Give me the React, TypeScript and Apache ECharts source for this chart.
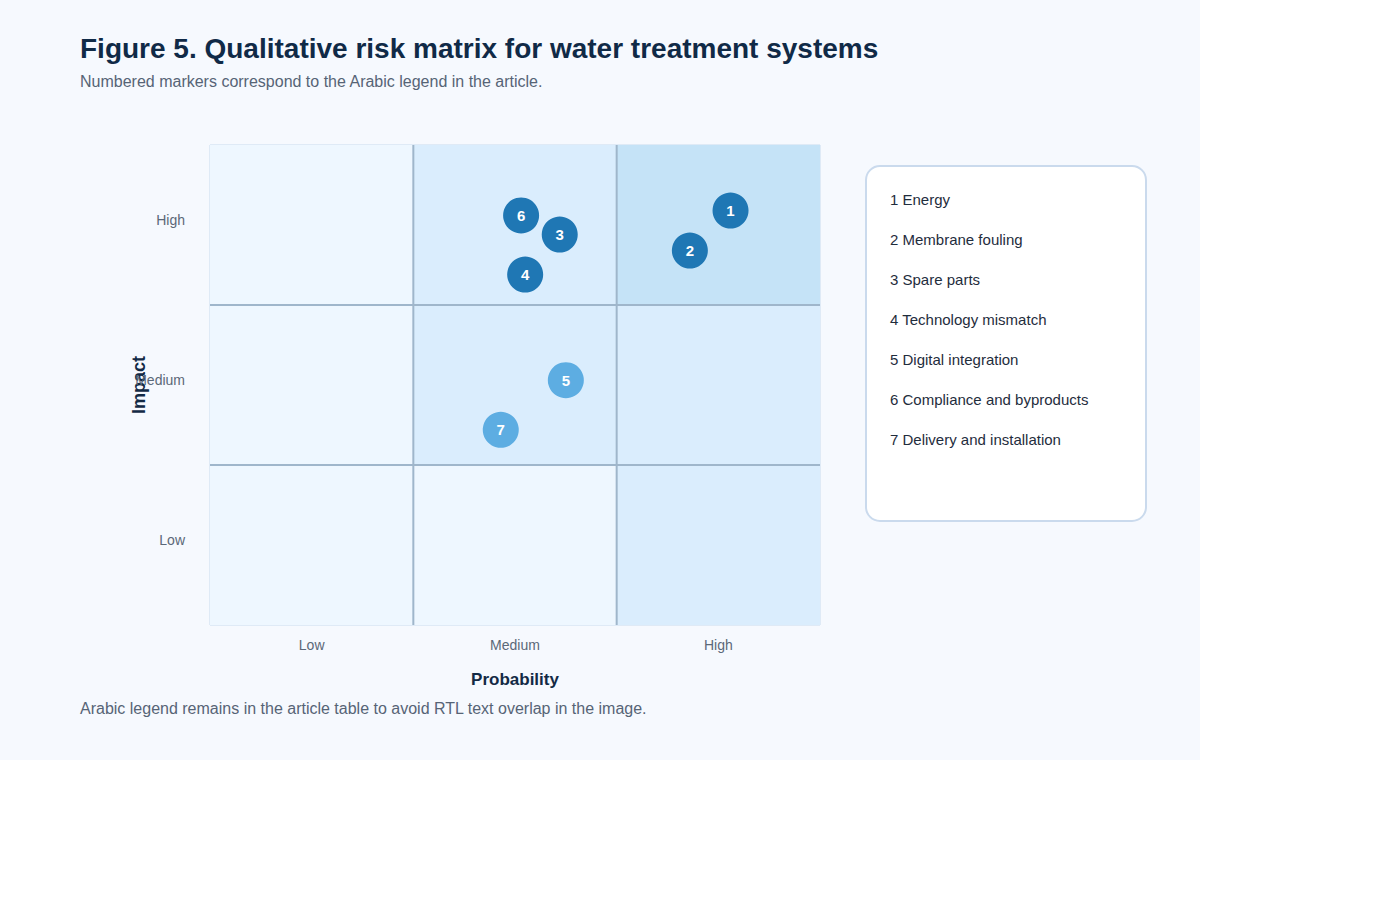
import React, { useEffect, useRef } from "react";
import * as echarts from "echarts";

// Risk levels along each axis
const levels = ["Low", "Medium", "High"];

// Matrix cell shading tiers: [probabilityIndex, impactIndex, tier]
const cells: [number, number, number][] = [
  [0, 0, 0], [1, 0, 0], [2, 0, 1],
  [0, 1, 0], [1, 1, 1], [2, 1, 1],
  [0, 2, 0], [1, 2, 1], [2, 2, 2],
];
const tierColors = ["#eef7ff", "#daedfd", "#c5e3f7"];

// Numbered risks: probability and impact positions (1 = Low, 2 = Medium, 3 = High)
const riskIds = [1, 2, 3, 4, 5, 6, 7];
const riskProbability = [3.06, 2.86, 2.22, 2.05, 2.25, 2.03, 1.93];
const riskImpact = [3.09, 2.84, 2.94, 2.69, 2.03, 3.06, 1.72];
const riskPriority = ["high", "high", "high", "high", "moderate", "high", "moderate"];

const riskNames = [
  "Energy",
  "Membrane fouling",
  "Spare parts",
  "Technology mismatch",
  "Digital integration",
  "Compliance and byproducts",
  "Delivery and installation",
];

const FONT = "'Liberation Sans', Arial, sans-serif";

export default function App() {
  const ref = useRef<HTMLDivElement>(null);

  useEffect(() => {
    if (!ref.current) return;
    const chart = echarts.init(ref.current, undefined, { renderer: "svg" });

    const legendTexts = riskIds.map((id, i) => ({
      type: "text",
      left: 890,
      top: 192 + i * 40,
      style: {
        text: `${id} ${riskNames[i]}`,
        fill: "#1f2d3d",
        font: `15px ${FONT}`,
      },
    }));

    chart.setOption({
      animation: false,
      backgroundColor: "#f6f9fe",
      textStyle: { fontFamily: FONT },
      grid: {
        left: 210,
        top: 145,
        width: 610,
        height: 480,
        show: true,
        borderColor: "#c8dbee",
        borderWidth: 1,
        backgroundColor: "transparent",
      },
      xAxis: [
        {
          type: "category",
          data: levels,
          boundaryGap: true,
          axisLine: { show: false },
          axisTick: { show: false },
          splitLine: { show: false },
          axisLabel: { color: "#5b6878", fontSize: 14, margin: 13 },
          name: "Probability",
          nameLocation: "middle",
          nameGap: 46,
          nameMoveOverlap: false,
          nameTextStyle: { color: "#132a45", fontSize: 17, fontWeight: "bold" },
        },
        { type: "value", min: 0.5, max: 3.5, show: false },
      ],
      yAxis: [
        {
          type: "category",
          data: levels,
          boundaryGap: true,
          axisLine: { show: false },
          axisTick: { show: false },
          splitLine: { show: false },
          axisLabel: {
            color: "#5b6878",
            fontSize: 14,
            margin: 25,
            verticalAlign: "bottom",
            lineHeight: 10,
          },
          name: "Impact",
          nameLocation: "middle",
          nameRotate: 90,
          nameGap: 62,
          nameMoveOverlap: false,
          nameTextStyle: { color: "#132a45", fontSize: 18, fontWeight: "bold" },
        },
        { type: "value", min: 0.5, max: 3.5, show: false },
      ],
      series: [
        {
          type: "custom",
          xAxisIndex: 0,
          yAxisIndex: 0,
          silent: true,
          data: cells,
          renderItem: (params: any, api: any) => {
            const c = api.value(0);
            const r = api.value(1);
            const tier = api.value(2);
            const center = api.coord([c, r]);
            const size = api.size([1, 1]);
            const x0 = center[0] - size[0] / 2;
            const y0 = center[1] - size[1] / 2;
            const children: any[] = [
              {
                type: "rect",
                shape: { x: x0, y: y0, width: size[0], height: size[1] },
                style: { fill: tierColors[tier] },
              },
            ];
            const lineStyle = { stroke: "#9fb6cb", lineWidth: 2 };
            if (c > 0) {
              children.push({
                type: "line",
                z2: 5,
                shape: { x1: x0, y1: y0, x2: x0, y2: y0 + size[1] },
                style: lineStyle,
              });
            }
            if (r > 0) {
              children.push({
                type: "line",
                z2: 5,
                shape: { x1: x0, y1: y0 + size[1], x2: x0 + size[0], y2: y0 + size[1] },
                style: lineStyle,
              });
            }
            return { type: "group", children };
          },
        },
        {
          type: "scatter",
          xAxisIndex: 1,
          yAxisIndex: 1,
          symbolSize: 36,
          z: 5,
          data: riskIds.map((id, i) => ({
            value: [riskProbability[i], riskImpact[i], id],
            itemStyle: {
              color: riskPriority[i] === "high" ? "#1f77b4" : "#5dade2",
              opacity: 1,
            },
          })),
          label: {
            show: true,
            position: "inside",
            formatter: (p: any) => String(p.value[2]),
            color: "#ffffff",
            fontSize: 15,
            fontWeight: "bold",
          },
        },
      ],
      graphic: [
        {
          type: "text",
          left: 80,
          top: 34,
          style: {
            text: "Figure 5. Qualitative risk matrix for water treatment systems",
            fill: "#102a47",
            font: `bold 28px ${FONT}`,
          },
        },
        {
          type: "text",
          left: 80,
          top: 73,
          style: {
            text: "Numbered markers correspond to the Arabic legend in the article.",
            fill: "#566476",
            font: `16px ${FONT}`,
          },
        },
        {
          type: "rect",
          left: 865,
          top: 165,
          shape: { width: 280, height: 355, r: 14 },
          style: { fill: "#ffffff", stroke: "#cadaed", lineWidth: 2 },
        },
        ...legendTexts,
        {
          type: "text",
          left: 80,
          top: 700,
          style: {
            text: "Arabic legend remains in the article table to avoid RTL text overlap in the image.",
            fill: "#566476",
            font: `16px ${FONT}`,
          },
        },
      ],
    });

    return () => chart.dispose();
  }, []);

  return (
    <div
      ref={ref}
      style={{ position: "absolute", left: 0, top: 0, width: 1200, height: 760 }}
    />
  );
}
